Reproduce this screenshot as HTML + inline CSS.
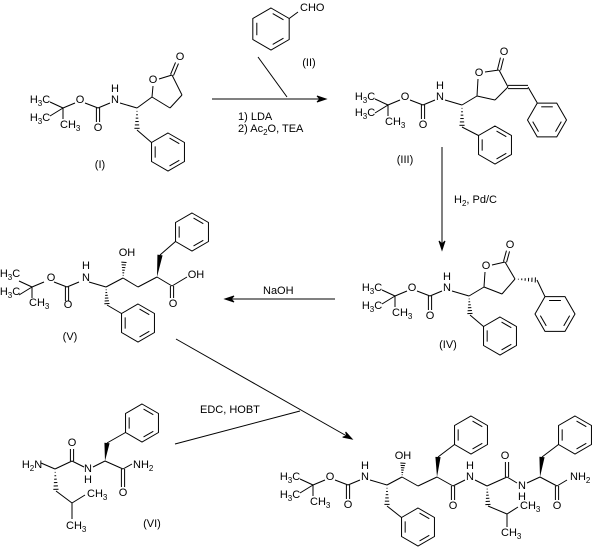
<!DOCTYPE html>
<html><head><meta charset="utf-8"><style>
html,body{margin:0;padding:0;background:#fff;width:602px;height:556px;overflow:hidden}
svg text{font-family:"Liberation Sans",sans-serif;font-size:11px;fill:#000;dominant-baseline:central}
.m{text-anchor:middle}
</style></head><body>
<svg id="s" width="602" height="556" viewBox="0 0 602 556" xmlns="http://www.w3.org/2000/svg">
<g id="b" stroke="#000" stroke-width="1" fill="none"></g>
<g id="t">
<!-- Boc texts helper positions: quat I(63,108) III(388,105) IV(395,296) V(32,287) P(313,485) -->
<text x="40" y="100" class="m">H<tspan font-size="8" dy="3">3</tspan><tspan dy="-3">C</tspan></text>
<text x="40" y="118" class="m">H<tspan font-size="8" dy="3">3</tspan><tspan dy="-3">C</tspan></text>
<text x="60" y="125">CH<tspan font-size="8" dy="3">3</tspan></text>
<text x="80" y="100" class="m">O</text><text x="98" y="128" class="m">O</text>
<text x="115" y="100" class="m">N</text><text x="115" y="89" class="m">H</text>
<text x="153" y="80" class="m">O</text><text x="180" y="57" class="m">O</text>
<text x="100" y="165" class="m">(I)</text>

<text x="300" y="8">CHO</text><text x="309" y="63" class="m">(II)</text>
<text x="238" y="117">1) LDA</text>
<text x="238" y="129">2) Ac<tspan font-size="8" dy="3">2</tspan><tspan dy="-3">O, TEA</tspan></text>

<text x="365" y="97" class="m">H<tspan font-size="8" dy="3">3</tspan><tspan dy="-3">C</tspan></text>
<text x="365" y="113" class="m">H<tspan font-size="8" dy="3">3</tspan><tspan dy="-3">C</tspan></text>
<text x="385" y="122">CH<tspan font-size="8" dy="3">3</tspan></text>
<text x="405" y="97" class="m">O</text><text x="423" y="125" class="m">O</text>
<text x="440" y="97" class="m">N</text><text x="440" y="86" class="m">H</text>
<text x="479" y="73" class="m">O</text><text x="504" y="52" class="m">O</text>
<text x="405" y="160" class="m">(III)</text>
<text x="454" y="200">H<tspan font-size="8" dy="3">2</tspan><tspan dy="-3">,  Pd/C</tspan></text>

<text x="372" y="288" class="m">H<tspan font-size="8" dy="3">3</tspan><tspan dy="-3">C</tspan></text>
<text x="372" y="306" class="m">H<tspan font-size="8" dy="3">3</tspan><tspan dy="-3">C</tspan></text>
<text x="392" y="313">CH<tspan font-size="8" dy="3">3</tspan></text>
<text x="412" y="288" class="m">O</text><text x="430" y="316" class="m">O</text>
<text x="447" y="288" class="m">N</text><text x="447" y="277" class="m">H</text>
<text x="486" y="266" class="m">O</text><text x="510" y="245" class="m">O</text>
<text x="448" y="345" class="m">(IV)</text>
<text x="263" y="291">NaOH</text>

<text x="10" y="274" class="m">H<tspan font-size="8" dy="3">3</tspan><tspan dy="-3">C</tspan></text>
<text x="10" y="292" class="m">H<tspan font-size="8" dy="3">3</tspan><tspan dy="-3">C</tspan></text>
<text x="29" y="303">CH<tspan font-size="8" dy="3">3</tspan></text>
<text x="51" y="278" class="m">O</text><text x="68" y="305" class="m">O</text>
<text x="86" y="278" class="m">N</text><text x="86" y="266" class="m">H</text>
<text x="127" y="253" class="m">OH</text>
<text x="173" y="304" class="m">O</text><text x="196" y="275" class="m">OH</text>
<text x="70" y="337" class="m">(V)</text>

<text x="32" y="465" class="m">H<tspan font-size="8" dy="3">2</tspan><tspan dy="-3">N</tspan></text>
<text x="72" y="443" class="m">O</text>
<text x="88" y="469" class="m">N</text><text x="88" y="480" class="m">H</text>
<text x="123" y="493" class="m">O</text>
<text x="133" y="465">NH<tspan font-size="8" dy="3">2</tspan></text>
<text x="87" y="494">CH<tspan font-size="8" dy="3">3</tspan></text>
<text x="66" y="526">CH<tspan font-size="8" dy="3">3</tspan></text>
<text x="152" y="524" class="m">(VI)</text>
<text x="200" y="410">EDC, HOBT</text>

<text x="290" y="477" class="m">H<tspan font-size="8" dy="3">3</tspan><tspan dy="-3">C</tspan></text>
<text x="290" y="495" class="m">H<tspan font-size="8" dy="3">3</tspan><tspan dy="-3">C</tspan></text>
<text x="310" y="502">CH<tspan font-size="8" dy="3">3</tspan></text>
<text x="330" y="477" class="m">O</text><text x="348" y="505" class="m">O</text>
<text x="365" y="477" class="m">N</text><text x="365" y="466" class="m">H</text>
<text x="403" y="456" class="m">OH</text>
<text x="453" y="506" class="m">O</text>
<text x="470" y="477" class="m">N</text><text x="470" y="466" class="m">H</text>
<text x="520" y="506">CH<tspan font-size="8" dy="3">3</tspan></text>
<text x="501" y="533">CH<tspan font-size="8" dy="3">3</tspan></text>
<text x="505" y="456" class="m">O</text>
<text x="522" y="486" class="m">N</text><text x="522" y="497" class="m">H</text>
<text x="557" y="506" class="m">O</text>
<text x="570" y="477">NH<tspan font-size="8" dy="3">2</tspan></text>
</g>
</svg>
<script>
var g=document.getElementById('b'),NS='http://www.w3.org/2000/svg';
function el(n,a){var e=document.createElementNS(NS,n);for(var k in a)e.setAttribute(k,a[k]);g.appendChild(e);return e;}
function L(a,b,c,d){el('line',{x1:a,y1:b,x2:c,y2:d});}
function D(a,b,c,d){var dx=c-a,dy=d-b,l=Math.hypot(dx,dy),nx=-dy/l*1.6,ny=dx/l*1.6;L(a+nx,b+ny,c+nx,d+ny);L(a-nx,b-ny,c-nx,d-ny);}
function H(a,b,c,d){var n=6;for(var i=1;i<=n;i++){var t=i/(n+0.5),x=a+(c-a)*t,y=b+(d-b)*t,dx=c-a,dy=d-b,l=Math.hypot(dx,dy),w=t*2.8;L(x-dy/l*w,y+dx/l*w,x+dy/l*w,y-dx/l*w);}}
function W(a,b,c,d){var dx=c-a,dy=d-b,l=Math.hypot(dx,dy),w=2.6;el('polygon',{points:a+','+b+' '+(c-dy/l*w)+','+(d+dx/l*w)+' '+(c+dy/l*w)+','+(d-dx/l*w),fill:'#000',stroke:'none'});}
function R(cx,cy,r,flat){var p=[];for(var k=0;k<6;k++){var a=(flat?0:-90)+60*k;a*=Math.PI/180;p.push([cx+r*Math.cos(a),cy+r*Math.sin(a)]);}
el('polygon',{points:p.map(function(q){return q.join(',')}).join(' ')});
for(var k=0;k<6;k+=2){var A=p[k],B=p[(k+1)%6],s=0.78;var a1=[cx+(A[0]-cx)*s,cy+(A[1]-cy)*s],b1=[cx+(B[0]-cx)*s,cy+(B[1]-cy)*s];var m=0.12;L(a1[0]+(b1[0]-a1[0])*m,a1[1]+(b1[1]-a1[1])*m,b1[0]-(b1[0]-a1[0])*m,b1[1]-(b1[1]-a1[1])*m);}}
function A(a,b,c,d){L(a,b,c,d);var dx=c-a,dy=d-b,l=Math.hypot(dx,dy),ux=dx/l,uy=dy/l;el('polygon',{points:c+','+d+' '+(c-ux*9-uy*3)+','+(d-uy*9+ux*3)+' '+(c-ux*6)+','+(d-uy*6)+' '+(c-ux*9+uy*3)+','+(d-uy*9-ux*3),fill:'#000',stroke:'#000'});}
function boc(q,r,ny){ // q,r quat
 L(q-13,r-6,q,r);L(q-13,r+8,q,r);L(q,r,q,r+11);L(q,r,q+12,r-5);L(q+22,r-5,q+35,r);D(q+35,r,q+35,r+14);L(q+35,r,q+47,r-5);L(q+57,r-5,q+74,r);}
// Mol I
boc(63,108);L(137,108,152,97);H(137,108,137,130);L(137,130,151.5,142.5);R(168,152,19);
L(152,97,153,86);L(159,79,172,75);L(172,75,182,95);L(182,95,170,108);L(170,108,152,97);D(172,75,177,63);
// II
R(271,29,21);L(289.2,18.5,298,12);L(258,57,287,97);
A(212,99,326,99);
// Mol III (quat 388,105 -> CH 462,105)
boc(388,105);L(462,105,477,96);H(462,105,462,127);L(462,127,478.5,135.5);R(495,145,19);
L(477,96,478,79);L(485,72,499,70);L(499,70,508,87);L(508,87,495,100);L(495,100,477,96);D(499,70,502,58);
D(508,87,528,87);L(528,87,537.3,103);R(547,120,19.5,true);
A(442,147,442,250);
// Mol IV (quat 395,296 -> CH 469,296)
boc(395,296);L(469,296,484,287);H(469,296,470,315);L(470,315,483.5,326.5);R(500,336,19);
L(484,287,485,272);L(492,265,505,262);L(505,262,515,279);L(515,279,502,294);L(502,294,484,287);D(505,262,508,251);
H(515,279,537,280);L(537,280,545,296.7);R(555,314,20,true);
A(335,299,225,299);
// Mol V (quat 32,287 -> CH 106,287)
boc(32,287);H(106,287,107,305);L(107,305,121.5,313.5);R(138,323,19);
L(106,287,123,278);H(123,278,124,261);L(123,278,138,287);L(138,287,157,277);W(157,277,160,255);L(160,255,175.5,241.5);R(192,232,19);
L(157,277,172,286);D(172,286,172,298);L(172,286,187,277);
// arrows
A(176,339,352,439);L(175,444,300,411);
// VI
L(41,463,55,469);H(55,469,56,491);L(56,491,72,503);L(72,503,85,495);L(72,503,72,519);
L(55,469,72,461);D(72,461,72,449);L(72,461,84,467);L(93,467,105,461);W(105,461,107,443);L(107,443,125.5,432.5);R(142,423,19);
L(105,461,123,469);D(123,469,123,487);L(123,469,132,464);
// Product (quat 313,485 -> CH 387,485)
boc(313,485);H(387,485,387,506);L(387,506,401.5,517.5);R(418,527,19);
L(387,485,402,477);H(402,477,403,462);L(402,477,418,486);L(418,486,437,477);W(437,477,438,457);L(438,457,454.5,444.5);R(471,435,19);
L(437,477,453,486);D(453,486,453,500);L(453,486,465,480);L(475,480,487,486);H(487,486,488,506);L(488,506,507,514);L(507,514,518,507);L(507,514,507,527);
L(487,486,507,477);D(507,477,507,462);L(507,477,517,483);L(527,483,540,477);W(540,477,542,457);L(542,457,558.5,444.5);R(575,435,19);
L(540,477,557,486);D(557,486,557,500);L(557,486,567,480);
</script>
</body></html>
